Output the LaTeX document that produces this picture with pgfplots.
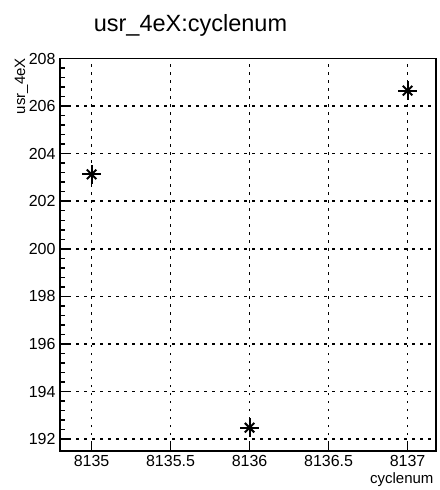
\documentclass[border=0pt]{standalone}
\usepackage{pgfplots}
\pgfplotsset{compat=1.18}
\usepackage{fontspec}
\setmainfont{Liberation Sans}

\begin{document}
\begin{tikzpicture}[x=1bp,y=1bp]
  % canvas 440 x 490
  \path (-60bp,-39bp) rectangle (380bp,451bp);
  \begin{axis}[
      scale only axis,
      width=376bp, height=392.5bp,
      xmin=8134.8, xmax=8137.18,
      ymin=191.5, ymax=208,
      xtick={8135,8135.5,...,8137},
      ytick={192,194,...,208},
      minor x tick num=4,
      minor y tick num=4,
      tick align=inside,
      xtick pos=bottom, ytick pos=left,
      major tick length=10bp,
      minor tick length=5bp,
      every tick/.style={black, line width=1.5bp},
      axis line style={line width=1.8bp},
      grid=major,
      major grid style={black, line width=1.6bp, dash pattern=on 2.5bp off 5.5bp},
      /pgf/number format/assume math mode=true,
      /pgf/number format/.cd, fixed, use period, 1000 sep={},
      /pgfplots/.cd,
      xticklabel style={font=\fontsize{16bp}{18bp}\selectfont, yshift=-1bp},
      yticklabel style={font=\fontsize{16bp}{18bp}\selectfont, xshift=-1bp},
      clip=false,
    ]
    \addplot[only marks, mark=+, mark size=9.5bp, line width=2bp, black]
      coordinates {(8135,203.13) (8136,192.48) (8137,206.65)};
    \addplot[only marks, mark=x, mark size=6.7bp, line width=2bp, black]
      coordinates {(8135,203.13) (8136,192.48) (8137,206.65)};
  \end{axis}
  \node[font=\fontsize{23.5bp}{26bp}\selectfont, anchor=base] at (130.5bp,419bp) {usr\_4eX:cyclenum};
  \node[font=\fontsize{15bp}{17bp}\selectfont, anchor=base east] at (377bp,-32bp) {cyclenum};
  \node[font=\fontsize{15bp}{17bp}\selectfont, rotate=90, anchor=base east, inner sep=0pt] at (-35bp,393bp) {usr\_4eX};
\end{tikzpicture}
\end{document}
